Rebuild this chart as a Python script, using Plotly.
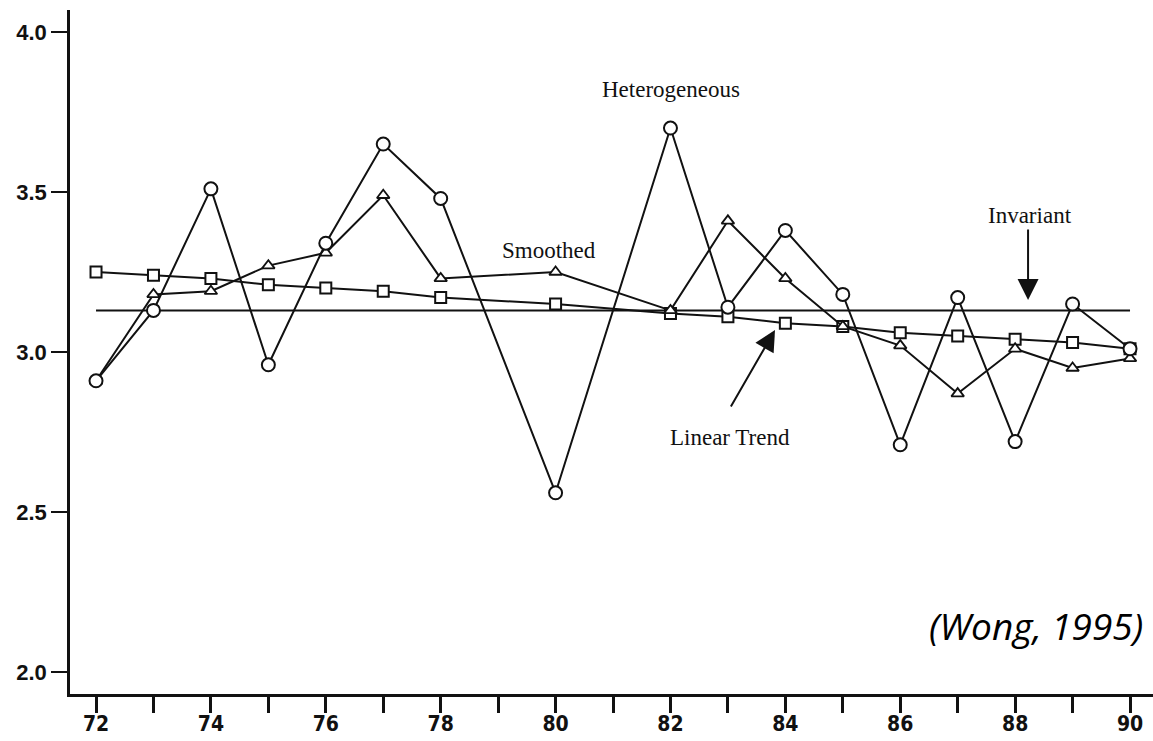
import plotly.graph_objects as go

# ---- data ----
years = [72, 73, 74, 75, 76, 77, 78, 80, 82, 83, 84, 85, 86, 87, 88, 89, 90]
heterogeneous = [2.91, 3.13, 3.51, 2.96, 3.34, 3.65, 3.48, 2.56, 3.70, 3.14, 3.38, 3.18, 2.71, 3.17, 2.72, 3.15, 3.01]
smoothed = [2.91, 3.18, 3.19, 3.27, 3.31, 3.49, 3.23, 3.25, 3.13, 3.41, 3.23, 3.08, 3.02, 2.87, 3.01, 2.95, 2.98]
linear_trend = [3.25, 3.24, 3.23, 3.21, 3.20, 3.19, 3.17, 3.15, 3.12, 3.11, 3.09, 3.08, 3.06, 3.05, 3.04, 3.03, 3.01]
invariant_years = [72, 90]
invariant = [3.13, 3.13]

x_tick_vals = list(range(72, 91))
x_tick_text = [str(v) if v % 2 == 0 else "" for v in x_tick_vals]
y_tick_vals = [2.0, 2.5, 3.0, 3.5, 4.0]
y_tick_text = ["2.0", "2.5", "3.0", "3.5", "4.0"]

INK = "#111111"

fig = go.Figure()

fig.add_trace(go.Scatter(
    x=invariant_years, y=invariant, mode="lines",
    line=dict(color=INK, width=2), name="Invariant", showlegend=False))

fig.add_trace(go.Scatter(
    x=years, y=linear_trend, mode="lines+markers",
    line=dict(color=INK, width=2),
    marker=dict(symbol="square", size=11, color="white", line=dict(color=INK, width=2)),
    name="Linear Trend", showlegend=False))

fig.add_trace(go.Scatter(
    x=years, y=smoothed, mode="lines+markers",
    line=dict(color=INK, width=2),
    marker=dict(symbol="triangle-up", size=11, color="white", line=dict(color=INK, width=1.8)),
    name="Smoothed", showlegend=False))

fig.add_trace(go.Scatter(
    x=years, y=heterogeneous, mode="lines+markers",
    line=dict(color=INK, width=2),
    marker=dict(symbol="circle", size=13, color="white", line=dict(color=INK, width=2)),
    name="Heterogeneous", showlegend=False))

serif = dict(family="Liberation Serif, Times New Roman, serif", size=23, color=INK)

annotations = [
    dict(x=82.01, y=3.819, text="Heterogeneous", showarrow=False, font=serif),
    dict(x=79.89, y=3.316, text="Smoothed", showarrow=False, font=serif),
    dict(x=88.26, y=3.428, text="Invariant", showarrow=False, font=serif),
    dict(x=83.04, y=2.734, text="Linear Trend", showarrow=False, font=serif),
    # arrows
    dict(x=88.225, y=3.1625, text="", showarrow=True, ax=0, ay=-72,
         arrowhead=2, arrowsize=2.1, arrowwidth=2, arrowcolor=INK),
    dict(x=83.82, y=3.069, text="", showarrow=True, ax=-45, ay=78,
         arrowhead=2, arrowsize=2.1, arrowwidth=2, arrowcolor=INK),
    dict(x=90.26, y=2.144, text="<i>(Wong, 1995)</i>", showarrow=False,
         xanchor="right", yanchor="middle",
         font=dict(family="Open Sans, Noto Sans, sans-serif", size=37, color="#000000")),
]

fig.update_layout(
    width=1153, height=741,
    margin=dict(l=70, r=0, t=10, b=47),
    paper_bgcolor="white", plot_bgcolor="white",
    annotations=annotations,
    xaxis=dict(
        range=[71.547, 90.40], automargin=False,
        tickmode="array", tickvals=x_tick_vals, ticktext=x_tick_text,
        ticks="outside", ticklen=16, tickwidth=2.5, tickcolor=INK,
        ticklabelstandoff=-7,
        showline=True, linecolor=INK, linewidth=2.5,
        showgrid=False, zeroline=False,
        tickfont=dict(family="Liberation Sans Narrow, DejaVu Sans Condensed, Arial, sans-serif",
                      size=21, color=INK, weight="bold"),
    ),
    yaxis=dict(
        range=[1.931, 4.069], automargin=False,
        tickmode="array", tickvals=y_tick_vals, ticktext=y_tick_text,
        ticks="outside", ticklen=16, tickwidth=2, tickcolor=INK,
        showline=True, linecolor=INK, linewidth=2.5,
        showgrid=False, zeroline=False,
        tickfont=dict(family="Liberation Sans, Arial, sans-serif", size=22, color=INK, weight="bold"),
    ),
)

fig.write_html("out.html")
